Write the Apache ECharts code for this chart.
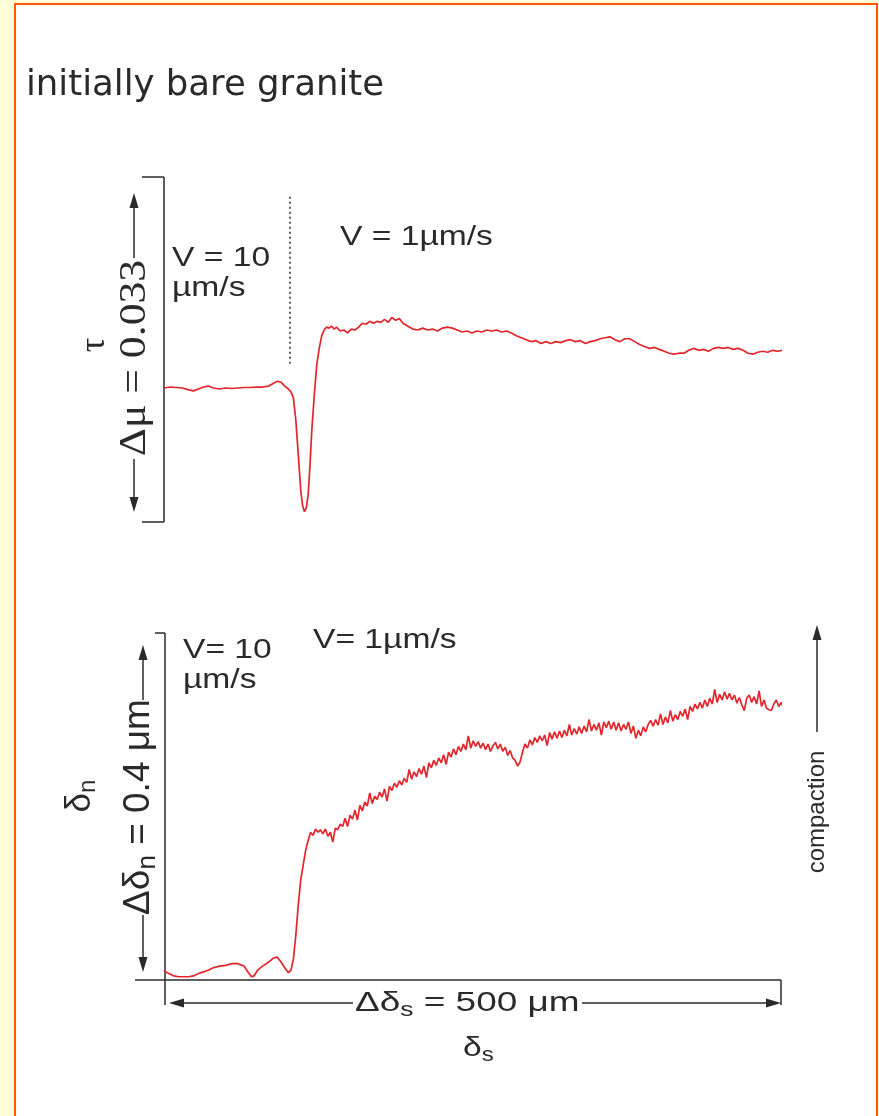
<!DOCTYPE html>
<html><head><meta charset="utf-8">
<script src="https://cdn.jsdelivr.net/npm/echarts@6/dist/echarts.min.js"></script>
<style>html,body{margin:0;padding:0;background:#FFFFDA;}#c{width:879px;height:1116px;}</style>
</head><body><div id="c"></div>
<script>
// ---- data: slip (µm) vs change in friction (Δµ ×10⁻³, relative to initial steady state)
const frictionTrace = [[0,0],[5,0.1],[10,0.05],[15,0],[20,-0.2],[24,-0.3],[28,-0.1],[32,0.1],[36,0.2],[40,0],[45,-0.1],[50,0],[55,-0.05],[60,0],[65,0.05],[70,0.05],[75,0.1],[80,0.1],[85,0.2],[89,0.5],[92,0.7],[95,0.6],[98,0.2],[101,-0.1],[103,-0.4],[105,-1.0],[107,-3.3],[109,-6.9],[111,-10.6],[112.5,-12.2],[114,-12.8],[115.5,-12.4],[117,-11.1],[118.5,-8.0],[120,-4.3],[122,-0.7],[124,2.4],[126,4.1],[128,5.4],[130,6.0],[132,6.3],[134,6.2],[136,6.4],[138,6.1],[140,6.3],[143,5.9],[146,6.0],[149,5.7],[152,6.1],[155,6.0],[158,6.3],[161,6.7],[164,6.6],[167,6.9],[170,6.7],[173,6.9],[176,6.8],[179,7.1],[182,6.8],[185,7.3],[188,7.0],[191,7.2],[194,6.7],[198,6.4],[202,6.1],[206,6.0],[210,6.2],[214,6.0],[218,6.1],[222,5.9],[226,6.2],[230,6.3],[234,6.2],[238,6.0],[242,5.8],[246,5.9],[250,5.7],[254,5.9],[258,5.8],[262,6.0],[266,5.9],[270,6.0],[274,5.8],[278,5.9],[282,5.7],[286,5.4],[290,5.2],[294,5.0],[298,4.8],[302,4.9],[306,4.6],[310,4.8],[314,4.6],[318,4.8],[322,4.7],[326,4.9],[330,5.0],[334,4.8],[338,4.9],[342,4.6],[346,4.8],[350,4.9],[354,5.1],[358,5.2],[362,5.3],[366,5.0],[370,4.8],[374,5.1],[378,5.1],[382,4.8],[386,4.5],[390,4.3],[394,4.1],[398,4.2],[402,4.0],[406,3.8],[410,3.6],[414,3.5],[418,3.6],[422,3.6],[426,3.9],[430,4.1],[434,3.9],[438,4.0],[442,3.8],[446,4.1],[450,4.2],[454,4.1],[458,4.2],[462,4.0],[466,4.1],[470,3.9],[474,3.6],[478,3.5],[482,3.7],[486,3.8],[490,3.7],[494,3.9],[498,3.8],[502,3.9]];

// ---- data: slip (µm) vs normal displacement δn (µm), compaction positive
const compactionTrace = [[0,0.001],[4,-0.002],[8,-0.005],[12,-0.006],[16,-0.006],[20,-0.006],[24,-0.005],[28,-0.002],[32,0.000],[36,0.002],[40,0.005],[45,0.007],[50,0.008],[55,0.010],[60,0.010],[65,0.007],[68,0.000],[71,-0.006],[73,-0.005],[76,0.002],[80,0.007],[85,0.012],[89,0.017],[92,0.018],[95,0.012],[98,0.005],[101,-0.001],[103,0.002],[105,0.015],[107,0.045],[109,0.082],[111,0.113],[113,0.131],[115,0.149],[117,0.161],[119,0.171],[121,0.167],[123,0.175],[125,0.171],[127,0.174],[129,0.169],[131,0.175],[133,0.166],[135,0.171],[137,0.159],[139,0.176],[141,0.174],[143,0.181],[145,0.178],[147,0.188],[149,0.178],[151,0.192],[153,0.187],[155,0.198],[157,0.186],[159,0.204],[161,0.197],[163,0.208],[165,0.203],[167,0.219],[169,0.206],[171,0.215],[173,0.211],[175,0.220],[177,0.214],[179,0.224],[181,0.209],[183,0.227],[185,0.222],[187,0.231],[189,0.226],[191,0.234],[193,0.229],[195,0.237],[197,0.232],[199,0.248],[201,0.236],[203,0.245],[205,0.239],[207,0.249],[209,0.242],[211,0.252],[213,0.238],[215,0.256],[217,0.250],[219,0.259],[221,0.253],[223,0.262],[225,0.256],[227,0.266],[229,0.254],[231,0.269],[233,0.263],[235,0.273],[237,0.266],[239,0.276],[241,0.270],[243,0.279],[245,0.272],[247,0.289],[249,0.274],[251,0.283],[253,0.276],[255,0.282],[257,0.274],[259,0.280],[261,0.272],[263,0.279],[265,0.270],[267,0.277],[269,0.281],[271,0.273],[273,0.279],[275,0.270],[277,0.275],[279,0.265],[281,0.271],[283,0.262],[285,0.259],[287,0.252],[289,0.257],[291,0.269],[293,0.279],[295,0.274],[297,0.284],[299,0.278],[301,0.287],[303,0.281],[305,0.289],[307,0.283],[309,0.290],[311,0.277],[313,0.293],[315,0.285],[317,0.294],[319,0.286],[321,0.295],[323,0.287],[325,0.296],[327,0.289],[329,0.303],[331,0.290],[333,0.298],[335,0.291],[337,0.300],[339,0.292],[341,0.301],[343,0.294],[345,0.309],[347,0.295],[349,0.303],[351,0.296],[353,0.305],[355,0.290],[357,0.306],[359,0.299],[361,0.307],[363,0.297],[365,0.306],[367,0.296],[369,0.305],[371,0.295],[373,0.303],[375,0.297],[377,0.306],[379,0.292],[381,0.301],[383,0.286],[385,0.296],[387,0.289],[389,0.300],[391,0.294],[393,0.303],[395,0.308],[397,0.301],[399,0.309],[401,0.302],[403,0.316],[405,0.303],[407,0.312],[409,0.305],[411,0.320],[413,0.307],[415,0.315],[417,0.309],[419,0.319],[421,0.313],[423,0.322],[425,0.309],[427,0.325],[429,0.319],[431,0.328],[433,0.322],[435,0.330],[437,0.323],[439,0.333],[441,0.325],[443,0.335],[445,0.328],[447,0.346],[449,0.330],[451,0.340],[453,0.333],[455,0.343],[457,0.334],[459,0.341],[461,0.333],[463,0.339],[465,0.329],[467,0.336],[469,0.327],[471,0.320],[473,0.335],[475,0.339],[477,0.330],[479,0.337],[481,0.328],[483,0.344],[485,0.325],[487,0.333],[489,0.323],[491,0.321],[493,0.320],[495,0.328],[497,0.333],[499,0.325],[501,0.330],[502,0.326]];

const velocityStepSlip = 102.3;   // µm, where V changes 10 → 1 µm/s
const titleText = 'initially bare granite';
const fastLabel = ['V = 10', 'µm/s'];
const slowLabel = 'V = 1µm/s';

const INK = '#2a2a2a';
const RED = '#E3262C';
const SANS = '"Liberation Sans", Arial, sans-serif';
const SERIF = '"Liberation Serif", "Times New Roman", serif';

const g = [];
g.push({type:'rect', z:-10, silent:true, shape:{x:15,y:4,width:862,height:1140},
  style:{fill:'#ffffff', stroke:'#FF5A00', lineWidth:2}});
function seg(x1,y1,x2,y2,w){ g.push({type:'line', silent:true, shape:{x1,y1,x2,y2}, style:{stroke:INK, lineWidth:w||1.5}}); }
function head(x,y,dir){
  const L=15, W=4.5; let p;
  if(dir==='up') p=[[x,y],[x-W,y+L],[x+W,y+L]];
  else if(dir==='down') p=[[x,y],[x-W,y-L],[x+W,y-L]];
  else if(dir==='left') p=[[x,y],[x+L,y-W],[x+L,y+W]];
  else p=[[x,y],[x-L,y-W],[x-L,y+W]];
  g.push({type:'polygon', silent:true, shape:{points:p}, style:{fill:INK}});
}
function label(text,x,y,o){
  o=o||{};
  const st={text, fontSize:o.size||28, fontFamily:o.family||SANS, fill:INK, align:o.align||'left', verticalAlign:'middle'};
  if(o.rich) st.rich=o.rich;
  if(o.lh) st.lineHeight=o.lh;
  g.push({type:'text', silent:true, x, y, rotation:o.rot||0, scaleX:o.sx||1, scaleY:o.sy||1, style:st});
}
const ROT = Math.PI/2;

// title
label(titleText, 26, 86, {size:35.5, family:'"DejaVu Sans", Verdana, sans-serif'});

// ---- top panel frame + annotations
seg(164,177,164,522); seg(142,177,164,177); seg(142,522,164,522);
seg(134,207,134,258); head(134,193,'up');
seg(134,459,134,498); head(134,512,'down');
label('Δμ = 0.033', 135.5, 358, {rot:ROT, size:38, family:SERIF, align:'center', sx:1.15});
label('τ', 95, 345, {rot:ROT, size:36, family:SERIF, align:'center'});
label(fastLabel[0], 172, 258, {sx:1.2});
label(fastLabel[1], 172, 288, {sx:1.2});
label(slowLabel, 340, 237, {sx:1.2});

// ---- bottom panel frame + annotations
seg(165,633,165,1005); seg(155,633,165,633);
seg(135,980,781,980); seg(781,980,781,1005);
seg(143,659,143,700); head(143,645,'up');
seg(143,915,143,958); head(143,972,'down');
label('Δδ{sub|n} = 0.4 μm', 139, 807, {rot:ROT, size:37, align:'center', lh:44,
  rich:{sub:{fontSize:26, fontFamily:SANS, verticalAlign:'bottom', lineHeight:20}}});
label('δ{sub|n}', 80, 796, {rot:ROT, size:35, align:'center', lh:40,
  rich:{sub:{fontSize:24, fontFamily:SANS, verticalAlign:'bottom', lineHeight:17}}});
label(fastLabel[0].replace(' =', '='), 183, 650, {sx:1.2});
label(fastLabel[1], 183, 680, {sx:1.2});
label(slowLabel.replace(' =', '='), 313, 640, {sx:1.2});
// compaction arrow
seg(817,640,817,732); head(817,625,'up');
label('compaction', 817, 812, {rot:ROT, size:24, align:'center'});
// slip scale arrow
seg(183,1003,353,1003); head(169,1003,'left');
seg(582,1003,767,1003); head(781,1003,'right');
label('Δδ{sub|s} = 500 μm', 355, 1003, {sx:1.32, lh:34,
  rich:{sub:{fontSize:20, fontFamily:SANS, verticalAlign:'bottom', lineHeight:14}}});
label('δ{sub|s}', 463, 1048, {sx:1.2, lh:34,
  rich:{sub:{fontSize:20, fontFamily:SANS, verticalAlign:'bottom', lineHeight:14}}});

const dotted = {color:INK, width:1.5, type:[2,3]};
const chart = echarts.init(document.getElementById('c'), null, {renderer:'canvas'});
chart.setOption({
  backgroundColor:'#FFFFDA',
  animation:false,
  grid:[
    {left:164, top:177, width:616, height:345},
    {left:164, top:633, width:616, height:347}
  ],
  xAxis:[
    {type:'value', gridIndex:0, min:0, max:500, show:false},
    {type:'value', gridIndex:1, min:0, max:500, show:false}
  ],
  yAxis:[
    {type:'value', gridIndex:0, min:-13.87, max:21.84, show:false},
    {type:'value', gridIndex:1, min:-0.01, max:0.415, show:false}
  ],
  graphic:{elements:g},
  series:[
    {type:'line', xAxisIndex:0, yAxisIndex:0, data:frictionTrace, showSymbol:false, clip:false, silent:true,
     lineStyle:{color:RED, width:1.7}, z:5,
     markLine:{silent:true, symbol:['none','none'], label:{show:false}, lineStyle:dotted,
       data:[[{coord:[velocityStepSlip,19.8]},{coord:[velocityStepSlip,2.4]}]]}},
    {type:'line', xAxisIndex:1, yAxisIndex:1, data:compactionTrace, showSymbol:false, clip:false, silent:true,
     lineStyle:{color:RED, width:1.7}, z:5,
     markLine:{silent:true, symbol:['none','none'], label:{show:false}, lineStyle:dotted,
       data:[[{coord:[velocityStepSlip,0.428]},{coord:[velocityStepSlip,0.021]}]]}}
  ]
});
</script></body></html>
